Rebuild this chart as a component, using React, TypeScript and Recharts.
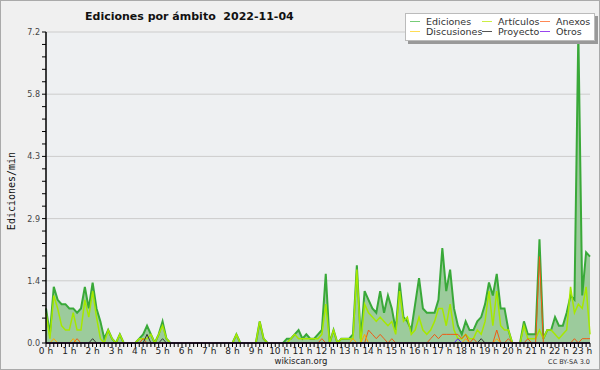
import React from 'react';
import { ComposedChart, Area, Line, XAxis, YAxis, CartesianGrid } from 'recharts';

// 10-minute slots from 00:00 to 23:20 (141 points), values in edits/min
const ediciones = [
  0.8, 0.2, 1.3, 1.0, 0.9, 0.9, 0.8, 0.8, 0.7, 0.8, 1.3, 0.8,
  1.4, 0.8, 0.5, 0.1, 0.3, 0.1, 0, 0.2, 0, 0, 0, 0,
  0.1, 0.2, 0.4, 0.2, 0, 0.2, 0.5, 0.1, 0, 0, 0, 0,
  0, 0, 0, 0, 0, 0, 0, 0, 0, 0, 0, 0,
  0, 0.2, 0, 0, 0, 0, 0, 0.5, 0.1, 0, 0, 0,
  0, 0, 0.1, 0.1, 0.2, 0.3, 0.1, 0.2, 0.1, 0.1, 0.2, 0.3,
  1.6, 0, 0.3, 0, 0.1, 0.1, 0.1, 0.2, 1.8, 0.1, 1.2, 1.0,
  0.8, 0.7, 1.2, 0.7, 1.1, 0.8, 0.3, 1.4, 0.6, 0.5, 0.3, 0.9,
  1.5, 0.8, 0.7, 0.7, 0.7, 1.0, 2.2, 1.2, 1.7, 0.8, 0.4, 0.2,
  0.5, 0.3, 0.3, 0.5, 0.6, 0.9, 1.4, 1.1, 1.6, 0.8, 0.8, 0.3,
  0, 0, 0, 0.5, 0.2, 0.2, 0.2, 2.4, 0.1, 0.3, 0.3, 0.6,
  0.4, 0.4, 0.7, 1.1, 1.0, 7.2, 1.1, 2.1, 2.0,
];
const articulos = [
  0.7, 0.1, 1.1, 0.8, 0.4, 0.3, 0.3, 0.7, 0.3, 0.3, 1.0, 0.6,
  1.2, 0.6, 0.1, 0, 0.3, 0.1, 0, 0.2, 0, 0, 0, 0,
  0.1, 0.1, 0.1, 0.2, 0, 0.2, 0.4, 0.1, 0, 0, 0, 0,
  0, 0, 0, 0, 0, 0, 0, 0, 0, 0, 0, 0,
  0, 0.2, 0, 0, 0, 0, 0, 0.5, 0.1, 0, 0, 0,
  0, 0, 0, 0.1, 0.2, 0.1, 0.1, 0.1, 0.1, 0.1, 0.1, 0.2,
  0.9, 0, 0.3, 0, 0.1, 0.1, 0.1, 0.1, 1.7, 0, 0.9, 0.7,
  0.6, 0.5, 0.6, 0.5, 0.4, 0.5, 0.2, 1.2, 0.5, 0.6, 0.2, 0.3,
  0.6, 0.3, 0.2, 0.3, 0.5, 0.8, 0.8, 0.4, 0.9, 0.3, 0.1, 0.1,
  0.2, 0.1, 0.1, 0.3, 0.2, 0.5, 1.2, 0.4, 1.2, 0.4, 0.3, 0.3,
  0, 0, 0, 0.4, 0.1, 0.1, 0.1, 0.3, 0.1, 0.3, 0.3, 0.2,
  0.1, 0.2, 0.3, 1.3, 0.7, 0.9, 0.8, 1.3, 0.2,
];
const anexos = [
  0, 0, 0, 0, 0, 0, 0, 0, 0.1, 0, 0, 0,
  0, 0, 0, 0, 0, 0, 0, 0, 0, 0, 0, 0,
  0, 0.1, 0, 0, 0, 0, 0, 0, 0, 0, 0, 0,
  0, 0, 0, 0, 0, 0, 0, 0, 0, 0, 0, 0,
  0, 0, 0, 0, 0, 0, 0, 0, 0, 0, 0, 0,
  0, 0, 0, 0, 0, 0, 0, 0, 0, 0, 0, 0.1,
  0, 0, 0, 0, 0, 0, 0, 0, 0, 0, 0, 0.3,
  0.2, 0.1, 0.2, 0.1, 0, 0.1, 0, 0, 0, 0, 0, 0,
  0, 0, 0, 0.1, 0.2, 0.1, 0.2, 0.2, 0.2, 0.2, 0.2, 0.1,
  0.2, 0, 0.1, 0, 0, 0, 0, 0, 0.3, 0, 0, 0.1,
  0, 0, 0, 0, 0.1, 0, 0, 2.0, 0, 0, 0, 0,
  0, 0, 0, 0, 0.1, 0, 0.1, 0.1, 0.1,
];
const discusiones = [
  0, 0, 0.1, 0, 0, 0, 0, 0.1, 0, 0, 0, 0,
  0, 0, 0, 0, 0, 0, 0, 0, 0, 0, 0, 0,
  0, 0, 0, 0, 0, 0, 0, 0, 0, 0, 0, 0,
  0, 0, 0, 0, 0, 0, 0, 0, 0, 0, 0, 0,
  0, 0, 0, 0, 0, 0, 0, 0, 0, 0, 0, 0,
  0, 0, 0, 0, 0, 0, 0, 0, 0, 0, 0, 0,
  0, 0, 0, 0, 0, 0, 0, 0.1, 0, 0, 0.2, 0,
  0, 0, 0, 0, 0, 0, 0, 0, 0, 0, 0, 0,
  0, 0, 0, 0, 0, 0, 0, 0, 0, 0, 0, 0,
  0.1, 0, 0, 0, 0, 0, 0, 0, 0.1, 0, 0, 0,
  0, 0, 0, 0, 0, 0, 0, 0, 0, 0, 0, 0,
  0, 0, 0, 0, 0, 0, 0, 0, 0,
];
const proyecto = [
  0, 0, 0, 0, 0, 0, 0, 0, 0, 0, 0, 0,
  0.1, 0, 0, 0, 0, 0, 0, 0, 0, 0, 0, 0,
  0, 0, 0.2, 0, 0, 0, 0.1, 0, 0, 0, 0, 0,
  0, 0, 0, 0, 0, 0, 0, 0, 0, 0, 0, 0,
  0, 0, 0, 0, 0, 0, 0, 0, 0, 0, 0, 0,
  0, 0, 0, 0, 0, 0, 0, 0, 0, 0, 0, 0,
  0, 0, 0, 0, 0, 0, 0, 0, 0, 0, 0, 0,
  0, 0, 0, 0, 0, 0, 0, 0, 0, 0, 0, 0,
  0, 0, 0, 0, 0, 0, 0, 0, 0, 0, 0, 0,
  0, 0, 0, 0, 0.1, 0, 0, 0, 0, 0, 0, 0,
  0, 0, 0, 0, 0, 0, 0, 0, 0, 0, 0, 0,
  0, 0, 0, 0, 0, 0, 0, 0, 0,
];
const otros = [
  0, 0, 0, 0, 0, 0, 0, 0, 0, 0, 0, 0,
  0, 0, 0, 0, 0, 0, 0, 0, 0, 0, 0, 0,
  0, 0, 0, 0, 0, 0, 0, 0, 0, 0, 0, 0,
  0, 0, 0, 0, 0, 0, 0, 0, 0, 0, 0, 0,
  0, 0, 0, 0, 0, 0, 0, 0, 0, 0, 0, 0,
  0, 0, 0, 0, 0, 0, 0, 0, 0, 0, 0, 0,
  0, 0, 0, 0, 0, 0, 0, 0, 0, 0, 0, 0,
  0, 0, 0, 0, 0, 0, 0, 0, 0, 0, 0, 0,
  0, 0, 0, 0, 0, 0, 0, 0, 0, 0, 0.1, 0,
  0, 0, 0, 0, 0, 0, 0, 0, 0, 0, 0, 0,
  0, 0, 0, 0, 0, 0, 0, 0, 0, 0, 0, 0,
  0, 0, 0, 0, 0, 0, 0, 0, 0,
];

const hourLabels = [
  '0 h', '1 h', '2 h', '3 h', '4 h', '5 h', '6 h', '7 h', '8 h', '9 h', '10 h', '11 h',
  '12 h', '13 h', '14 h', '15 h', '16 h', '17 h', '18 h', '19 h', '20 h', '21 h', '22 h', '23 h',
];
const yMajorTicks = [0, 1.44, 2.88, 4.32, 5.76, 7.2];
const yMinorTicks = Array.from({ length: 26 }, (_, i) => i * 0.288);

const series = [
  { key: 'ediciones', name: 'Ediciones', color: '#39a939', legend: '#77cc77' },
  { key: 'articulos', name: 'Artículos', color: '#a6e800', legend: '#ccee44' },
  { key: 'anexos', name: 'Anexos', color: '#f05a14', legend: '#ff8855' },
  { key: 'discusiones', name: 'Discusiones', color: '#ffaa00', legend: '#ffdd55' },
  { key: 'proyecto', name: 'Proyecto', color: '#333333', legend: '#555555' },
  { key: 'otros', name: 'Otros', color: '#6a22ff', legend: '#9944ee' },
];

const data = ediciones.map((v, i) => ({
  t: i / 6,
  ediciones: v,
  articulos: articulos[i],
  anexos: anexos[i],
  discusiones: discusiones[i],
  proyecto: proyecto[i],
  otros: otros[i],
}));
const xTicks = data.map((d) => d.t);
const xMax = xTicks[xTicks.length - 1];

const FONT = '"DejaVu Sans", Verdana, sans-serif';

const XTick = (props: any) => {
  const { x, y, payload } = props;
  const v = payload.value;
  const h = Math.round(v);
  if (Math.abs(v - h) > 1e-6) return <g />;
  return (
    <text x={x} y={y} dy={7} textAnchor="middle" fontSize={9} fill="#222" fontFamily={FONT}>
      {hourLabels[h]}
    </text>
  );
};

const YTick = (props: any) => {
  const { x, y, payload } = props;
  const v = payload.value;
  const major = yMajorTicks.some((m) => Math.abs(m - v) < 1e-6);
  if (!major) return <g />;
  return (
    <text x={x} y={y} dy={3} textAnchor="end" fontSize={8} fill="#444" fontFamily={FONT}>
      {v.toFixed(1)}
    </text>
  );
};

const legendRows = [
  ['ediciones', 'articulos', 'anexos'],
  ['discusiones', 'proyecto', 'otros'],
];
const colX = [4, 76, 134];

const LegendBox = () => (
  <div
    style={{
      position: 'absolute',
      left: 404,
      top: 12,
      width: 190,
      height: 28,
      background: '#fff',
      border: '1px solid #bbb',
      boxShadow: '3px 3px 0 #999',
      fontFamily: FONT,
      fontSize: 9.5,
      color: '#333',
      boxSizing: 'border-box',
    }}
  >
    {legendRows.map((row, r) =>
      row.map((k, c) => {
        const s = series.find((q) => q.key === k)!;
        return (
          <div key={k} style={{ position: 'absolute', left: colX[c], top: 2 + r * 10, height: 11, display: 'flex', alignItems: 'center', whiteSpace: 'nowrap' }}>
            <span style={{ display: 'inline-block', width: 10, height: 1, background: s.legend, marginRight: 6 }} />
            <span>{s.name}</span>
          </div>
        );
      })
    )}
  </div>
);

export default function App() {
  return (
    <div
      style={{
        position: 'absolute',
        left: 0,
        top: 0,
        width: 600,
        height: 370,
        background: '#f0f0f0',
        border: '1px solid #aaa',
        boxSizing: 'border-box',
        overflow: 'hidden',
      }}
    >
      <div style={{ position: 'absolute', left: -1, top: -1 }}>
        <ComposedChart width={600} height={370} data={data} margin={{ top: 32, right: 10, bottom: 0, left: 0 }}>
          <CartesianGrid
            vertical={false}
            horizontalValues={yMajorTicks}
            stroke="#cccccc"
            fill="#eef0f2"
          />
          <XAxis
            dataKey="t"
            type="number"
            domain={[0, xMax]}
            ticks={xTicks}
            interval={0}
            height={27}
            tickSize={4}
            tickMargin={0}
            tick={<XTick />}
            axisLine={{ stroke: '#000', strokeWidth: 1.5 }}
            tickLine={{ stroke: '#000' }}
          />
          <YAxis
            type="number"
            domain={[0, 7.2]}
            ticks={yMinorTicks}
            interval={0}
            width={46}
            tickSize={4}
            tickMargin={2}
            tick={<YTick />}
            axisLine={{ stroke: '#000', strokeWidth: 1.5 }}
            tickLine={{ stroke: '#000' }}
          />
          <Area
            type="linear"
            dataKey="ediciones"
            name="Ediciones"
            stroke="#39a939"
            strokeWidth={2}
            fill="#9ccb9c"
            fillOpacity={1}
            dot={false}
            activeDot={false}
            isAnimationActive={false}
          />
          {series.slice(1).map((s) => (
            <Line
              key={s.key}
              type="linear"
              dataKey={s.key}
              name={s.name}
              stroke={s.color}
              strokeWidth={s.key === 'articulos' ? 1.5 : 1}
              dot={false}
              activeDot={false}
              isAnimationActive={false}
            />
          ))}
        </ComposedChart>
      </div>
      <LegendBox />
      <div
        style={{
          position: 'absolute',
          left: 84,
          top: 9,
          fontFamily: FONT,
          fontWeight: 'bold',
          fontSize: 11,
          color: '#111',
          whiteSpace: 'pre',
        }}
      >
        {'Ediciones por ámbito  2022-11-04'}
      </div>
      <div
        style={{
          position: 'absolute',
          left: 10,
          top: 190,
          transform: 'translate(-50%, -50%) rotate(-90deg)',
          fontFamily: '"DejaVu Sans Mono", monospace',
          fontSize: 10,
          color: '#111',
          whiteSpace: 'nowrap',
        }}
      >
        Ediciones/min
      </div>
      <div
        style={{
          position: 'absolute',
          left: 0,
          width: 600,
          top: 355,
          textAlign: 'center',
          fontFamily: FONT,
          fontSize: 8.5,
          color: '#222',
        }}
      >
        wikiscan.org
      </div>
      <div
        style={{
          position: 'absolute',
          right: 9,
          top: 357,
          fontFamily: FONT,
          fontSize: 6.5,
          color: '#333',
        }}
      >
        CC BY-SA 3.0
      </div>
    </div>
  );
}
